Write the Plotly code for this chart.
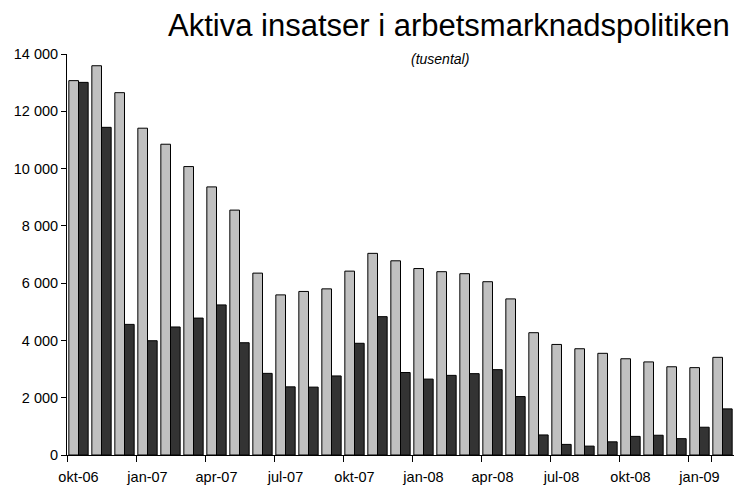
import plotly.graph_objects as go

# månader okt-06 .. feb-09
manader = ["okt-06", "nov-06", "dec-06", "jan-07", "feb-07", "mar-07", "apr-07", "maj-07",
           "jun-07", "jul-07", "aug-07", "sep-07", "okt-07", "nov-07", "dec-07", "jan-08",
           "feb-08", "mar-08", "apr-08", "maj-08", "jun-08", "jul-08", "aug-08", "sep-08",
           "okt-08", "nov-08", "dec-08", "jan-09", "feb-09"]

# ljusgrå serie (tusental)
serie_ljus = [13070, 13590, 12650, 11410, 10850, 10070, 9360, 8550, 6350, 5590,
              5710, 5800, 6420, 7040, 6780, 6510, 6400, 6330, 6050, 5450,
              4270, 3860, 3710, 3550, 3360, 3250, 3080, 3050, 3410]

# mörk serie (tusental)
serie_mork = [13010, 11440, 4560, 3990, 4470, 4780, 5240, 3920, 2850, 2380,
              2370, 2760, 3900, 4830, 2880, 2650, 2780, 2840, 2980, 2040,
              700, 370, 310, 460, 650, 690, 570, 970, 1610]

tick_manader = manader[::3]

fig = go.Figure()
fig.add_trace(go.Bar(x=manader, y=serie_ljus, name="Serie 1",
                     marker=dict(color="#c0c0c0", line=dict(color="#000000", width=1))))
fig.add_trace(go.Bar(x=manader, y=serie_mork, name="Serie 2",
                     marker=dict(color="#333333", line=dict(color="#000000", width=1))))

fig.update_layout(
    width=735, height=485,
    margin=dict(l=67, r=1, t=54, b=30, autoexpand=False),
    barmode="group", bargap=0.16, bargroupgap=0,
    showlegend=False,
    plot_bgcolor="white", paper_bgcolor="white",
    separators=", ",
    font=dict(family="Liberation Sans, Arial", size=14.5, color="black"),
)

fig.update_xaxes(
    type="category",
    tickmode="array", tickvals=tick_manader, ticktext=tick_manader,
    tickson="boundaries", ticks="outside", ticklen=6, tickcolor="black",
    tickangle=0, automargin=False, ticklabelstandoff=9,
    showline=True, linecolor="black", linewidth=1,
    showgrid=False,
)
fig.update_yaxes(
    range=[0, 14000], dtick=2000, tickformat=",d",
    ticks="outside", ticklen=5, tickcolor="black", automargin=False,
    showline=True, linecolor="black", linewidth=1,
    showgrid=False, zeroline=False,
)

fig.add_annotation(text="Aktiva insatser i arbetsmarknadspolitiken",
                   xref="paper", yref="paper", x=1, y=1, xanchor="right", yanchor="bottom",
                   xshift=-2, yshift=9, showarrow=False, font=dict(size=31))
fig.add_annotation(text="<i>(tusental)</i>",
                   xref="paper", yref="paper", x=(440 - 67) / 667, y=1, xanchor="center", yanchor="middle",
                   yshift=-5, showarrow=False, font=dict(size=14))

fig.write_html("out.html", config={"displayModeBar": False},
               post_script="document.body.style.margin='0';")
